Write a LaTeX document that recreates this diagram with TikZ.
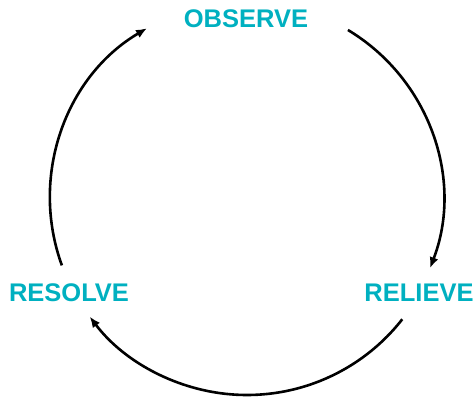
\documentclass[tikz,border=0pt]{standalone}
\usepackage{fontspec}
\setmainfont{Liberation Sans}
\usetikzlibrary{arrows.meta,positioning}
\usepackage{xcolor}
\definecolor{cyclecolor}{RGB}{0,176,192}

\begin{document}
\begin{tikzpicture}[
    % Estilo dos rótulos das etapas
        stage/.style={text=cyclecolor, font=\fontsize{25.5}{30}\selectfont\bfseries, inner sep=0pt},
    % Estilo das setas em arco
        cyclearrow/.style={-{Latex[length=11pt,width=9pt]}, line width=2.6pt}
    ]
    % --- MOLDURA ---
    \useasboundingbox (-247pt,-200pt) rectangle (228pt,198pt);

    % --- ETAPAS ---
    \node[stage] (observe) at (-1pt,179pt) {OBSERVE};
    \node[stage] (relieve) at (172pt,-95pt) {RELIEVE};
    \node[stage] (resolve) at (-178pt,-95pt) {RESOLVE};

    % --- PONTOS DOS ARCOS ---
    \coordinate (obsout) at (59:196pt);
    \coordinate (relout) at (-38:197pt);
    \coordinate (resout) at (200:197pt);

    % --- LIGAÇÕES ---
    \draw[cyclearrow] (obsout) arc[start angle=59, end angle=-21, radius=196pt];
    \draw[cyclearrow] (relout) arc[start angle=-38, end angle=-143, radius=197pt];
    \draw[cyclearrow] (resout) arc[start angle=200, end angle=120.5, radius=197pt];
\end{tikzpicture}
\end{document}
